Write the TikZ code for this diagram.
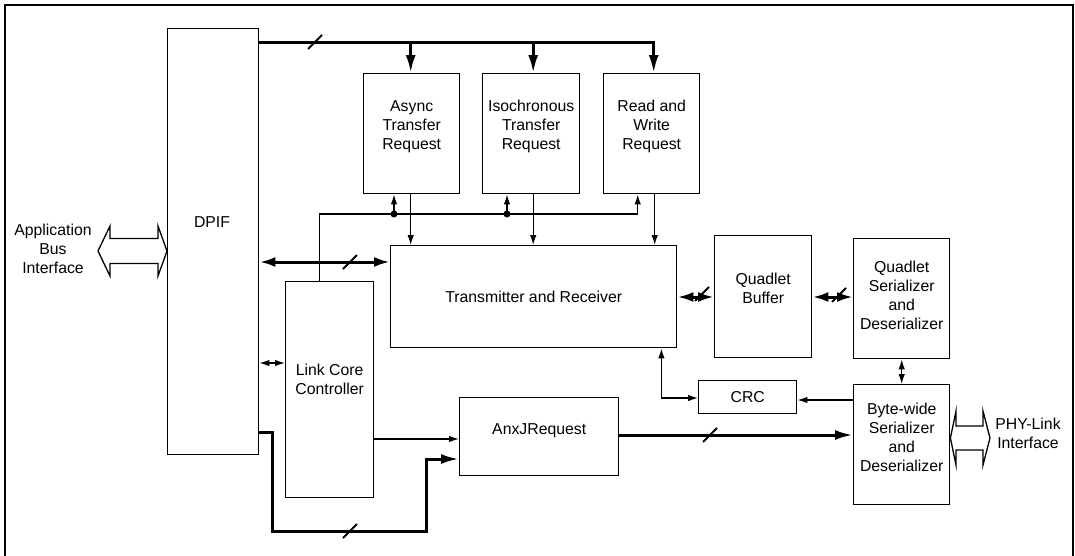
\documentclass[tikz,border=0pt]{standalone}
\usepackage{fontspec}
\setmainfont{Liberation Sans}
\usetikzlibrary{arrows.meta}

\tikzset{
  blk/.style={draw, line width=1.4, inner sep=0, anchor=north west},
  lbl/.style={font=\fontsize{15.8}{19}\selectfont, align=center, inner sep=0},
  wire/.style={line width=1.3},
  wirea/.style={wire, -{Latex[length=10,width=6.5]}},
  wired/.style={wire, {Latex[length=10,width=6.5]}-{Latex[length=10,width=6.5]}},
  bus/.style={line width=3, line join=miter},
  busa/.style={bus, -{Latex[length=18,width=10]}},
  busd/.style={bus, {Latex[length=16,width=10]}-{Latex[length=16,width=10]}},
  hollow/.style={line width=1.3, line join=miter},
}
\newcommand{\busmark}[1]{\draw[line width=2, shift={(#1)}] (-7,7) -- (7,-7);}

\begin{document}
\begin{tikzpicture}[x=1pt,y=-1pt]
\useasboundingbox (0,0) rectangle (1075,555);
\draw[line width=1.6] (5,5) rectangle (1073,562);

% blocks
\node[blk, minimum width=91, minimum height=426] (dpif) at (167,28) {};
\node[blk, minimum width=96, minimum height=120] (async) at (363,73) {};
\node[blk, minimum width=97, minimum height=120] (iso) at (482,73) {};
\node[blk, minimum width=96, minimum height=120] (rw) at (603,73) {};
\node[blk, minimum width=286, minimum height=102] (tr) at (390,245) {};
\node[blk, minimum width=88, minimum height=216] (lcc) at (285,281) {};
\node[blk, minimum width=159, minimum height=78] (anx) at (459,397) {};
\node[blk, minimum width=98, minimum height=33] (crc) at (698,380) {};
\node[blk, minimum width=97, minimum height=122] (qb) at (714,235) {};
\node[blk, minimum width=96, minimum height=120] (qsd) at (853,238) {};
\node[blk, minimum width=96, minimum height=120] (bw) at (853,384) {};

% block texts
\node[lbl] (dpiftxt) at (212,222) {DPIF};
\node[lbl] (asynctxt) at ([yshift=7]async.center) {Async\\Transfer\\Request};
\node[lbl] (isotxt) at ([yshift=7]iso.center) {Isochronous\\Transfer\\Request};
\node[lbl] (rwtxt) at ([yshift=7]rw.center) {Read and\\Write\\Request};
\node[lbl] (trtxt) at (tr.center) {Transmitter and Receiver};
\node[lbl] (lcctxt) at ([yshift=10]lcc.center) {Link Core\\Controller};
\node[lbl] (anxtxt) at ([yshift=6]anx.center) {AnxJRequest};
\node[lbl] (crctxt) at (crc.center) {CRC};
\node[lbl] (qbtxt) at ([yshift=8]qb.center) {Quadlet\\Buffer};
\node[lbl] (qsdtxt) at ([yshift=3]qsd.center) {Quadlet\\Serializer\\and\\Deserializer};
\node[lbl] (bwtxt) at ([yshift=7]bw.center) {Byte-wide\\Serializer\\and\\Deserializer};
\node[lbl] (apptxt) at (53,249) {Application\\Bus\\Interface};
\node[lbl] (phytxt) at (1028,433) {PHY-Link\\Interface};

% interface arrows
\draw[hollow] (98,251) -- (110,226) -- (110,238.5) -- (158,238.5) -- (158,226) -- (dpif.west |- 0,251)
  -- (158,276) -- (158,263.5) -- (110,263.5) -- (110,276) -- cycle;
\draw[hollow] (bw.east |- 0,438) -- (956,411) -- (956,426) -- (983,426) -- (983,411) -- (990,438)
  -- (983,465) -- (983,450) -- (956,450) -- (956,465) -- cycle;

% top bus
\coordinate (bus) at (dpif.east |- 0,42);
\draw[busa] (bus) -| ([xshift=2]rw.north);
\draw[busa] ([xshift=-1]async.north |- bus) -- ([xshift=-1]async.north);
\draw[busa] ([xshift=2]iso.north |- bus) -- ([xshift=2]iso.north);
\busmark{315,42}

% request blocks to transmitter
\draw[wirea] ([xshift=-1]async.south) -- ([xshift=-1]async.south |- tr.north);
\draw[wirea] ([xshift=2]iso.south) -- ([xshift=2]iso.south |- tr.north);
\draw[wirea] ([xshift=3]rw.south) -- ([xshift=3]rw.south |- tr.north);

% control line from link core controller
\draw[wirea] ([xshift=-10]lcc.north) -- ++(0,-67) -| ([xshift=-14]rw.south);
\coordinate (d1) at (394,214);
\coordinate (d2) at (507,214);
\fill (d1) circle (3.5);
\fill (d2) circle (3.5);
\draw[wirea] (d1) -- (d1 |- async.south);
\draw[wirea] (d2) -- (d2 |- iso.south);

% DPIF connections
\draw[busd] (dpif.east |- 0,262) -- (tr.west |- 0,262);
\busmark{350,262}
\draw[wired] (dpif.east |- 0,363) -- (lcc.west |- 0,363);
\draw[wirea] (lcc.east |- 0,439) -- (anx.west |- 0,439);
\draw[busa] (dpif.east |- 0,432) -| (272,531) -| (426,459) -- (anx.west |- 0,459);
\busmark{350,531}

% right side
\draw[busa] (anx.east |- 0,435) -- (bw.west |- 0,435);
\busmark{710,435}
\draw[busd] (tr.east |- 0,297) -- (qb.west |- 0,297);
\busmark{702,294}
\draw[busd] (qb.east |- 0,297) -- (qsd.west |- 0,297);
\busmark{839,295}
\draw[wired] (qsd.south) -- (bw.north);
\draw[wirea] (bw.west |- 0,400) -- (crc.east |- 0,400);
\draw[wired] ([xshift=-16]tr.south east) |- (crc.west |- 0,398);
\end{tikzpicture}
\end{document}
